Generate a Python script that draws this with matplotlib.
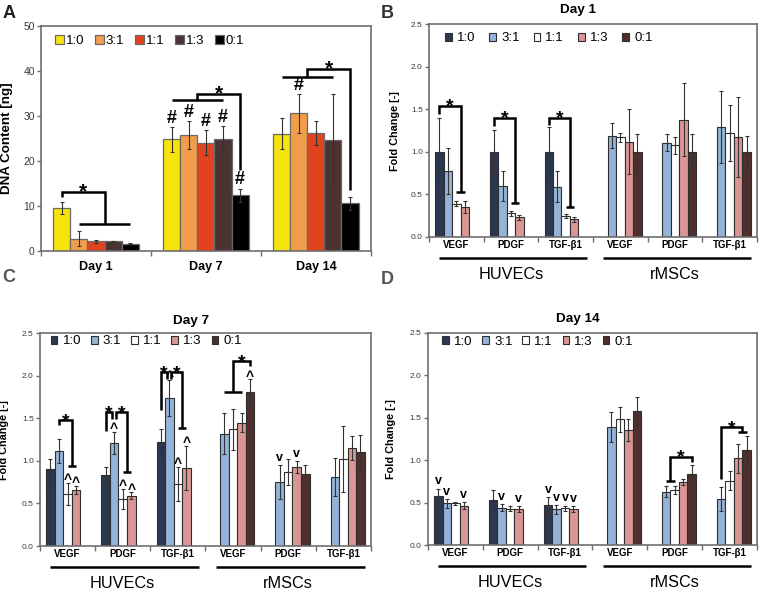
import numpy as np
import matplotlib
matplotlib.use("Agg")
import matplotlib.pyplot as plt

plt.rcParams['font.family'] = ['Liberation Sans', 'DejaVu Sans']

nan = np.nan

ratios = ['1:0', '3:1', '1:1', '1:3', '0:1']
days = ['Day 1', 'Day 7', 'Day 14']
factors = ['VEGF', 'PDGF', 'TGF-β1', 'VEGF', 'PDGF', 'TGF-β1']
cell_groups = ['HUVECs', 'rMSCs']

# A: DNA content [ng], one list per ratio (Day 1, Day 7, Day 14)
dna_10 = [9.6, 24.8, 26.1]
dna_31 = [2.8, 25.8, 30.6]
dna_11 = [2.2, 24.1, 26.2]
dna_13 = [2.2, 25.0, 24.7]
dna_01 = [1.7, 12.4, 10.6]
dna_10_sd = [1.3, 2.7, 3.5]
dna_31_sd = [1.7, 3.1, 4.3]
dna_11_sd = [0.3, 2.8, 2.6]
dna_13_sd = [0.1, 2.8, 10.2]
dna_01_sd = [0.1, 1.5, 1.5]

# B: fold change day 1 (HUVEC VEGF, PDGF, TGF-b1, rMSC VEGF, PDGF, TGF-b1)
d1_10 = [1.00, 1.00, 1.00, nan, nan, nan]
d1_31 = [0.77, 0.60, 0.59, 1.19, 1.11, 1.29]
d1_11 = [0.39, 0.28, 0.25, 1.17, 1.08, 1.22]
d1_13 = [0.35, 0.23, 0.21, 1.12, 1.38, 1.17]
d1_01 = [nan, nan, nan, 1.00, 1.00, 1.00]
d1_10_sd = [0.40, 0.26, 0.29, nan, nan, nan]
d1_31_sd = [0.27, 0.18, 0.18, 0.15, 0.10, 0.42]
d1_11_sd = [0.03, 0.03, 0.025, 0.05, 0.10, 0.33]
d1_13_sd = [0.07, 0.03, 0.03, 0.38, 0.43, 0.47]
d1_01_sd = [nan, nan, nan, 0.21, 0.21, 0.19]

# C: day 7
d7_10 = [0.90, 0.83, 1.22, nan, nan, nan]
d7_31 = [1.12, 1.21, 1.74, 1.32, 0.75, 0.81]
d7_11 = [0.61, 0.55, 0.73, 1.37, 0.87, 1.02]
d7_13 = [0.66, 0.59, 0.92, 1.45, 0.93, 1.15]
d7_01 = [nan, nan, nan, 1.81, 0.85, 1.10]
d7_10_sd = [0.12, 0.10, 0.16, nan, nan, nan]
d7_31_sd = [0.14, 0.13, 0.21, 0.24, 0.20, 0.22]
d7_11_sd = [0.13, 0.12, 0.20, 0.24, 0.15, 0.39]
d7_13_sd = [0.05, 0.04, 0.26, 0.11, 0.07, 0.14]
d7_01_sd = [nan, nan, nan, 0.15, 0.10, 0.20]

# D: day 14
d14_10 = [0.575, 0.53, 0.47, nan, nan, nan]
d14_31 = [0.49, 0.44, 0.42, 1.39, 0.63, 0.54]
d14_11 = [0.49, 0.43, 0.435, 1.48, 0.65, 0.76]
d14_13 = [0.465, 0.42, 0.42, 1.36, 0.74, 1.02]
d14_01 = [nan, nan, nan, 1.58, 0.84, 1.12]
d14_10_sd = [0.09, 0.12, 0.095, nan, nan, nan]
d14_31_sd = [0.05, 0.04, 0.05, 0.18, 0.07, 0.14]
d14_11_sd = [0.02, 0.025, 0.03, 0.145, 0.05, 0.11]
d14_13_sd = [0.04, 0.035, 0.035, 0.13, 0.035, 0.17]
d14_01_sd = [nan, nan, nan, 0.17, 0.105, 0.17]

# markers (category index, ratio index)
hash_a = [(1, 0), (1, 1), (1, 2), (1, 3), (1, 4), (2, 1)]
up_c = [(0, 2), (0, 3), (1, 1), (1, 2), (1, 3), (2, 1), (2, 2), (2, 3), (3, 4)]
down_c = [(4, 1), (4, 3)]
down_d = [(0, 0), (0, 1), (0, 3), (1, 1), (1, 3), (2, 0), (2, 1), (2, 2), (2, 3)]

colors_a = ['#F6E40C', '#F19D4A', '#E1421F', '#4A3431', '#000000']
colors_fc = ['#2B3850', '#94B3D8', '#FFFFFF', '#D99694', '#4F302E']
W = 0.155
SPINE = '#6E6E6E'


def xpos(cat, j):
    return cat + (j - 2) * W


def draw_bars(ax, means, sds, colors, edge, elw):
    for j, (m, s) in enumerate(zip(means, sds)):
        m = np.asarray(m, float)
        s = np.asarray(s, float)
        ok = ~np.isnan(m)
        x = np.arange(len(m))[ok] + (j - 2) * W
        ax.bar(x, m[ok], W, color=colors[j], edgecolor=edge, linewidth=elw,
               label=ratios[j], zorder=2)
        ax.errorbar(x, m[ok], yerr=s[ok], fmt='none', ecolor='#333333',
                    elinewidth=0.8, capsize=1.6, capthick=0.8, zorder=3)


def style_axes(ax, ncat, ymax, ystep, fmt, tsize):
    ax.set_xlim(-0.5, ncat - 0.5)
    ax.set_ylim(0, ymax)
    ax.set_yticks(np.arange(0, ymax + ystep / 2, ystep))
    ax.set_yticklabels([fmt.format(v) for v in np.arange(0, ymax + ystep / 2, ystep)])
    ax.set_xticks(range(ncat))
    ax.set_xticks(np.arange(-0.5, ncat, 1.0), minor=True)
    for sp in ax.spines.values():
        sp.set_color(SPINE)
        sp.set_linewidth(1.2)
    ax.tick_params(axis='y', direction='out', length=3, width=1, color=SPINE,
                   labelsize=tsize, labelcolor='#3A3A3A', pad=1.5)
    ax.tick_params(axis='x', which='major', length=0)
    ax.tick_params(axis='x', which='minor', direction='out', length=3.5, width=1,
                   color=SPINE)


def bracket(ax, left, right, top, lw=1.8, fs=14):
    def leg(spec):
        if len(spec) == 2:
            return spec
        x0, x1, y = spec
        ax.plot([x0, x1], [y, y], color='k', lw=lw, solid_capstyle='butt',
                zorder=4)
        return (x0 + x1) / 2, y
    xl, yl = leg(left)
    xr, yr = leg(right)
    ax.plot([xl, xl, xr, xr], [yl, top, top, yr], color='k', lw=lw,
            solid_joinstyle='miter', solid_capstyle='butt', zorder=4)
    ax.annotate('*', ((xl + xr) / 2, top), xytext=(0, -4),
                textcoords='offset points', ha='center', va='baseline',
                fontsize=fs, fontweight='bold')


def marks(ax, items, means, sds, sym, dy, fs):
    for cat, j in items:
        y = means[j][cat] + sds[j][cat]
        ax.annotate(sym, (xpos(cat, j), y), xytext=(0, dy),
                    textcoords='offset points', ha='center', va='baseline',
                    fontsize=fs, fontweight='bold')


def fc_panel(ax, means, sds, title, tpad, leg_xy, colsp, ylab_x):
    draw_bars(ax, means, sds, colors_fc, '#2E2E2E', 0.8)
    style_axes(ax, 6, 2.5, 0.5, '{:.1f}', 6)
    ax.set_xticklabels(factors, fontsize=7, fontweight='bold')
    ax.tick_params(axis='x', which='major', pad=2)
    ax.set_title(title, fontsize=9.7, fontweight='bold', pad=tpad, x=0.455)
    ax.set_ylabel('Fold Change [-]', fontsize=7.8, fontweight='bold')
    ax.yaxis.set_label_coords(ylab_x, 0.5)
    tr = ax.get_xaxis_transform()
    for g, name in enumerate(cell_groups):
        ax.plot([3 * g - 0.31, 3 * g + 2.39], [-0.1, -0.1], color='k',
                lw=1.8, transform=tr, clip_on=False, solid_capstyle='butt')
        ax.text(3 * g + 1.0, -0.175, name, transform=tr, ha='center',
                va='center', fontsize=11.7)
    ax.legend(ncol=5, loc='upper left', bbox_to_anchor=leg_xy,
              frameon=False, fontsize=9.5, handlelength=0.5, handleheight=0.55,
              handletextpad=0.4, columnspacing=colsp, borderaxespad=0,
              borderpad=0)


fig = plt.figure(figsize=(7.6, 5.91), dpi=100)
axA = fig.add_axes([0.054, 0.575, 0.434, 0.381])
axB = fig.add_axes([0.5645, 0.599, 0.4316, 0.360])
axC = fig.add_axes([0.0526, 0.0761, 0.4355, 0.360])
axD = fig.add_axes([0.563, 0.0778, 0.433, 0.359])

# ---- A
dna = [dna_10, dna_31, dna_11, dna_13, dna_01]
dna_sd = [dna_10_sd, dna_31_sd, dna_11_sd, dna_13_sd, dna_01_sd]
draw_bars(axA, dna, dna_sd, colors_a, '#6A6A6A', 0.9)
style_axes(axA, 3, 50, 10, '{:.0f}', 7.5)
axA.set_xticklabels(days, fontsize=9, fontweight='bold')
axA.tick_params(axis='x', which='major', pad=7)
axA.set_ylabel('DNA Content [ng]', fontsize=9.6, fontweight='bold')
axA.yaxis.set_label_coords(-0.085, 0.5)
axA.legend(ncol=5, loc='upper left', bbox_to_anchor=(0.042, 0.96),
           frameon=False, fontsize=9.5, handlelength=0.68, handleheight=0.7,
           handletextpad=0.15, columnspacing=0.8, borderaxespad=0,
           borderpad=0)
bracket(axA, (xpos(0, 0), 12.1), (xpos(0, 1), xpos(0, 4), 6.1), 13.2, fs=15)
bracket(axA, (xpos(1, 0), xpos(1, 3), 33.6), (xpos(1, 4), 18.0), 35.0, fs=15)
bracket(axA, (xpos(2, 0), xpos(2, 3), 38.7), (xpos(2, 4), 13.6), 40.4, fs=15)
marks(axA, hash_a, dna, dna_sd, '#', 3, 13)

# ---- B
d1 = [d1_10, d1_31, d1_11, d1_13, d1_01]
d1_sd = [d1_10_sd, d1_31_sd, d1_11_sd, d1_13_sd, d1_01_sd]
fc_panel(axB, d1, d1_sd, 'Day 1', 8, (0.049, 0.962), 1.05, -0.088)
for c, top, lb, rb in [(0, 1.54, 1.45, 0.53), (1, 1.40, 1.31, 0.40),
                       (2, 1.40, 1.32, 0.35)]:
    bracket(axB, (xpos(c, 0), lb), (xpos(c, 2), xpos(c, 3), rb), top)

# ---- C
d7 = [d7_10, d7_31, d7_11, d7_13, d7_01]
d7_sd = [d7_10_sd, d7_31_sd, d7_11_sd, d7_13_sd, d7_01_sd]
fc_panel(axC, d7, d7_sd, 'Day 7', 7, (0.033, 0.99), 0.74, -0.094)
off = 0.25 * W
bracket(axC, (xpos(0, 1), 1.42), (xpos(0, 2), xpos(0, 3), 0.94), 1.475)
bracket(axC, (xpos(1, 0), 1.35), (xpos(1, 1) - off, 1.49), 1.57)
bracket(axC, (xpos(1, 1) + off, 1.49), (xpos(1, 2), xpos(1, 3), 0.87), 1.57)
bracket(axC, (xpos(2, 0), 1.60), (xpos(2, 1) - off, 1.96), 2.04)
bracket(axC, (xpos(2, 1) + off, 1.96), (xpos(2, 2), xpos(2, 3), 1.39), 2.04)
bracket(axC, (xpos(3, 1), xpos(3, 3), 1.81), (xpos(3, 4), 2.12), 2.17)
marks(axC, up_c, d7, d7_sd, '^', -1, 10)
marks(axC, down_c, d7, d7_sd, 'v', 3, 9)

# ---- D
d14 = [d14_10, d14_31, d14_11, d14_13, d14_01]
d14_sd = [d14_10_sd, d14_31_sd, d14_11_sd, d14_13_sd, d14_01_sd]
fc_panel(axD, d14, d14_sd, 'Day 14', 8, (0.043, 0.986), 0.74, -0.097)
bracket(axD, (xpos(4, 1), xpos(4, 2), 0.75), (xpos(4, 4), 0.98), 1.04)
bracket(axD, (xpos(5, 1), 0.78), (xpos(5, 3), xpos(5, 4), 1.33), 1.39)
marks(axD, down_d, d14, d14_sd, 'v', 3, 9)

# panel letters
for lab, x, y, col in [('A', 0.003, 0.992, '#222222'), ('B', 0.501, 0.992, '#333333'),
                       ('C', 0.003, 0.545, '#555555'), ('D', 0.501, 0.541, '#555555')]:
    fig.text(x, y, lab, fontsize=13, fontweight='bold', color=col,
             ha='left', va='top')

fig.savefig('out.png', dpi=100)
